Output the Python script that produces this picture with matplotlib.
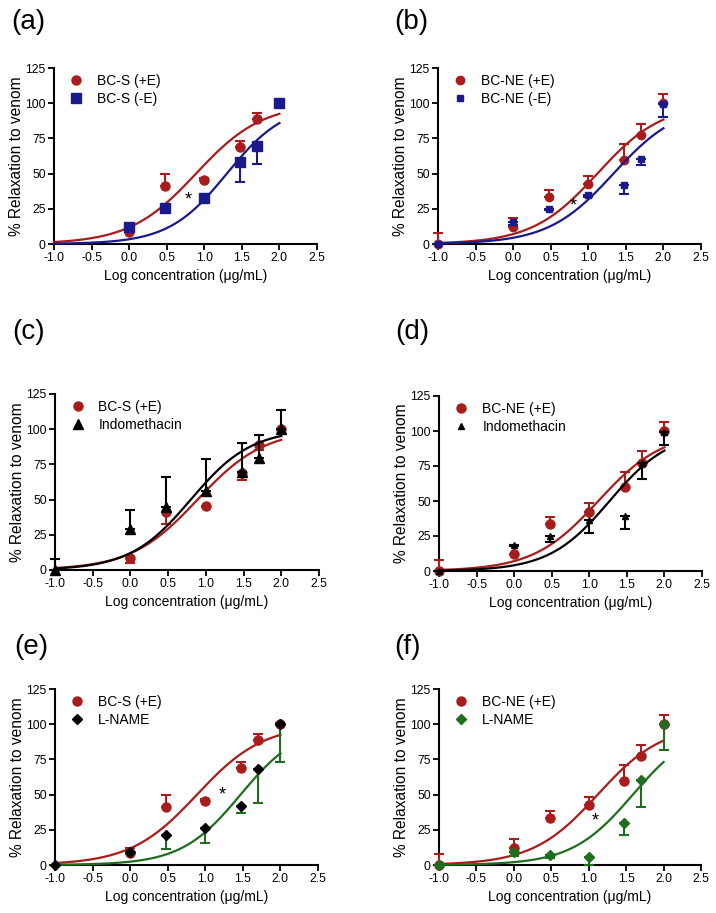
import numpy as np
import matplotlib
matplotlib.use("Agg")
import matplotlib.pyplot as plt
from matplotlib.lines import Line2D

plt.rcParams['font.family'] = ['Liberation Sans', 'DejaVu Sans']
plt.rcParams['axes.unicode_minus'] = False

# ---------------- data ----------------
log_conc = [-1.0, 0.0, 0.477, 1.0, 1.477, 1.699, 2.0]

# BC-S with endothelium (no point at -1)
bcs_pe_x = [0.0, 0.477, 1.0, 1.477, 1.699, 2.0]
bcs_pe_y = [8.5, 41.4, 45.8, 68.7, 89.0, 100.0]
bcs_pe_sem = [3.5, 8.5, 1.0, 4.5, 3.8, 0.5]

# BC-S without endothelium
bcs_me_x = [0.0, 0.477, 1.0, 1.477, 1.699, 2.0]
bcs_me_y = [11.8, 25.6, 32.7, 58.2, 69.4, 100.0]
bcs_me_sem = [2.0, 1.5, 2.0, 14.4, 12.6, 3.0]

# BC-NE with endothelium
bcne_pe_y = [0.0, 12.0, 33.5, 42.3, 60.0, 77.3, 100.0]
bcne_pe_sem = [7.7, 6.7, 5.2, 6.3, 11.0, 8.2, 6.6]

# BC-NE without endothelium
bcne_me_y = [0.0, 15.4, 24.9, 35.0, 41.9, 60.4, 99.4]
bcne_me_sem = [0.0, 2.0, 1.0, 1.5, 6.6, 4.5, 9.5]

# Indomethacin
indo_s_y = [0.0, 29.4, 45.0, 56.3, 69.6, 79.3, 100.0]
indo_s_sem = [7.8, 13.0, 21.3, 22.5, 20.8, 16.6, 13.7]
indo_ne_y = [0.0, 18.8, 25.0, 36.2, 39.0, 77.1, 99.3]
indo_ne_sem = [0.0, 1.0, 4.3, 9.1, 8.8, 11.1, 9.5]

# L-NAME
lname_s_y = [0.0, 9.0, 21.3, 26.1, 42.0, 68.3, 100.0]
lname_s_sem = [0.0, 1.0, 10.2, 10.2, 4.8, 24.4, 27.0]
lname_ne_y = [0.0, 9.5, 7.1, 5.9, 30.1, 60.5, 100.0]
lname_ne_sem = [0.0, 3.0, 2.4, 5.9, 8.8, 19.0, 18.5]

# fitted sigmoid parameters: (top, logEC50, Hill slope)
fit_bcs_pe = (100.0, 0.89, 0.98)
fit_bcs_me = (100.0, 1.30, 1.12)
fit_bcne_pe = (100.0, 1.12, 1.00)
fit_bcne_me = (100.0, 1.335, 1.00)
fit_indo_s = (100.0, 0.80, 1.08)
fit_indo_ne = (100.0, 1.27, 1.08)
fit_lname_s = (100.0, 1.47, 1.10)
fit_lname_ne = (100.0, 1.59, 1.06)

x_ticks = [-1.0, -0.5, 0.0, 0.5, 1.0, 1.5, 2.0, 2.5]
y_ticks = [0, 25, 50, 75, 100, 125]

RED = '#A81C1C'
BLUE = '#1A1A8C'
GREEN = '#1E6E1E'
BLACK = '#000000'

W, H = 716, 913
fig = plt.figure(figsize=(W / 100, H / 100), dpi=100)


def add_ax(l, r, t, b):
    return fig.add_axes([l / W, 1 - b / H, (r - l) / W, (b - t) / H])


def hill(x, p):
    top, ec, h = p
    return top / (1 + 10 ** ((ec - x) * h))


def series(ax, x, y, sem, direction, fit, mcolor, ecolor, marker, ms, zo):
    xc = np.linspace(-1, 2, 300)
    ax.plot(xc, hill(xc, fit), color=ecolor, lw=1.6, zorder=zo, clip_on=False)
    sem = np.asarray(sem)
    zeros = np.zeros_like(sem)
    yerr = [zeros, sem] if direction > 0 else [sem, zeros]
    ax.errorbar(x, y, yerr=yerr, fmt='none', ecolor=ecolor, elinewidth=1.5,
                capsize=3.6, capthick=1.5, zorder=zo + 0.1, clip_on=False)
    ax.plot(x, y, ls='none', marker=marker, ms=ms, color=mcolor,
            markeredgecolor=mcolor, zorder=zo + 0.2, clip_on=False)


def style(ax, label, label_xy):
    ax.set_xlim(-1, 2.5)
    ax.set_ylim(0, 125)
    ax.set_xticks(x_ticks)
    ax.set_xticklabels(['%.1f' % v for v in x_ticks])
    ax.set_yticks(y_ticks)
    ax.set_yticklabels([str(v) for v in y_ticks])
    for s in ['top', 'right']:
        ax.spines[s].set_visible(False)
    for s in ['left', 'bottom']:
        ax.spines[s].set_linewidth(1.5)
    ax.tick_params(direction='out', length=4, width=1.3, labelsize=8.8, pad=2)
    ax.set_ylabel('% Relaxation to venom', fontsize=11.2)
    ax.yaxis.set_label_coords(-0.115, 0.5)
    ax.set_xlabel('Log concentration (μg/mL)', fontsize=10)
    ax.xaxis.set_label_coords(0.5, -0.14)
    fig.text(label_xy[0] / W, 1 - label_xy[1] / H, label, fontsize=20,
             ha='left', va='center')


def legend(ax, items):
    handles = [Line2D([], [], ls='none', marker=m, ms=ms, color=c) for (m, ms, c, _) in items]
    labels = [t for (_, _, _, t) in items]
    ax.legend(handles, labels, loc='upper left', bbox_to_anchor=(0.038, 1.0),
              frameon=False, fontsize=10, handlelength=1.0, handletextpad=1.0,
              labelspacing=0.3, borderaxespad=0)


# (a)
ax = add_ax(54, 317, 68, 244)
series(ax, bcs_pe_x, bcs_pe_y, bcs_pe_sem, +1, fit_bcs_pe, RED, RED, 'o', 6.5, 3)
series(ax, bcs_me_x, bcs_me_y, bcs_me_sem, -1, fit_bcs_me, BLUE, BLUE, 's', 6.5, 4)
ax.text(0.79, 31.5, '*', fontsize=13, ha='center', va='center')
legend(ax, [('o', 6.5, RED, 'BC-S (+E)'), ('s', 6.5, BLUE, 'BC-S (-E)')])
style(ax, '(a)', (11, 22))

# (b)
ax = add_ax(438, 701, 68, 244)
series(ax, log_conc, bcne_pe_y, bcne_pe_sem, +1, fit_bcne_pe, RED, RED, 'o', 6.0, 3)
series(ax, log_conc, bcne_me_y, bcne_me_sem, -1, fit_bcne_me, BLUE, BLUE, 's', 4.8, 4)
ax.text(0.80, 27.0, '*', fontsize=13, ha='center', va='center')
legend(ax, [('o', 6.0, RED, 'BC-NE (+E)'), ('s', 4.8, BLUE, 'BC-NE (-E)')])
style(ax, '(b)', (394, 22))

# (c)
ax = add_ax(55, 319, 394, 570)
series(ax, bcs_pe_x, bcs_pe_y, bcs_pe_sem, -1, fit_bcs_pe, RED, RED, 'o', 6.5, 3)
series(ax, log_conc, indo_s_y, indo_s_sem, +1, fit_indo_s, BLACK, BLACK, '^', 6.5, 4)
legend(ax, [('o', 6.5, RED, 'BC-S (+E)'), ('^', 6.5, BLACK, 'Indomethacin')])
style(ax, '(c)', (12, 332))

# (d)
ax = add_ax(439, 702, 396, 571)
series(ax, log_conc, bcne_pe_y, bcne_pe_sem, +1, fit_bcne_pe, RED, RED, 'o', 6.5, 3)
series(ax, log_conc, indo_ne_y, indo_ne_sem, -1, fit_indo_ne, BLACK, BLACK, '^', 4.8, 4)
legend(ax, [('o', 6.5, RED, 'BC-NE (+E)'), ('^', 4.8, BLACK, 'Indomethacin')])
style(ax, '(d)', (395, 332))

# (e)
ax = add_ax(55, 318, 689, 865)
series(ax, bcs_pe_x, bcs_pe_y, bcs_pe_sem, +1, fit_bcs_pe, RED, RED, 'o', 6.5, 3)
series(ax, log_conc, lname_s_y, lname_s_sem, -1, fit_lname_s, BLACK, GREEN, 'D', 5.5, 4)
ax.text(1.23, 49.5, '*', fontsize=13, ha='center', va='center')
legend(ax, [('o', 6.5, RED, 'BC-S (+E)'), ('D', 5.5, BLACK, 'L-NAME')])
style(ax, '(e)', (14, 647))

# (f)
ax = add_ax(439, 701, 689, 865)
series(ax, log_conc, bcne_pe_y, bcne_pe_sem, +1, fit_bcne_pe, RED, RED, 'o', 6.5, 3)
series(ax, log_conc, lname_ne_y, lname_ne_sem, -1, fit_lname_ne, GREEN, GREEN, 'D', 5.5, 4)
ax.text(1.09, 31.5, '*', fontsize=13, ha='center', va='center')
legend(ax, [('o', 6.5, RED, 'BC-NE (+E)'), ('D', 5.5, GREEN, 'L-NAME')])
style(ax, '(f)', (394, 647))

fig.savefig('out.png', dpi=100)
